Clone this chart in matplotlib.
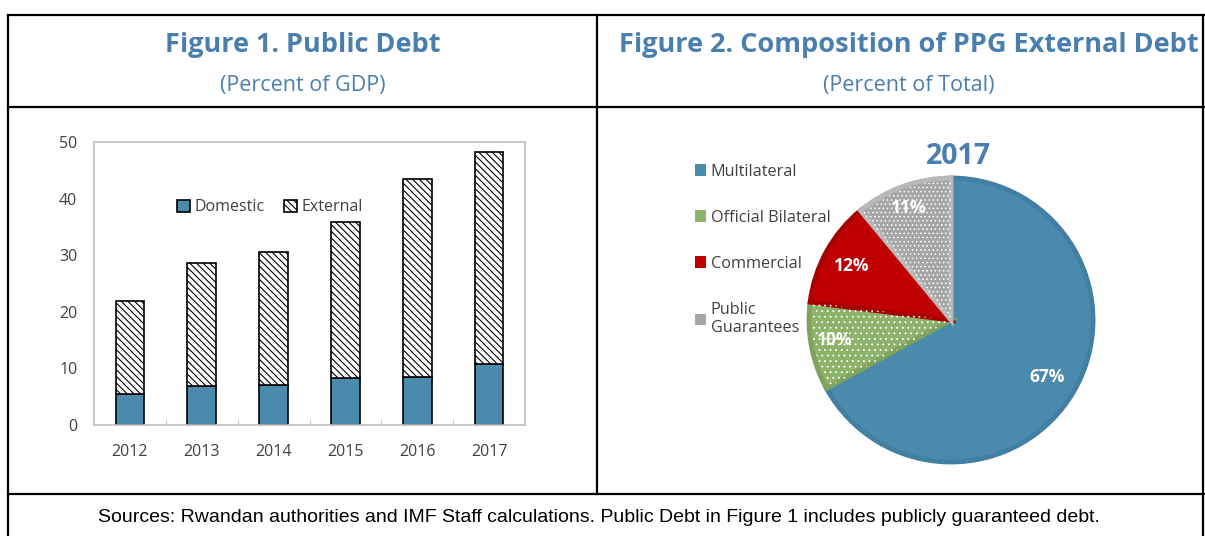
import numpy as np
import matplotlib
matplotlib.use('Agg')
import matplotlib.pyplot as plt
from matplotlib.lines import Line2D
from matplotlib.patches import Patch, Wedge

plt.rcParams['font.family'] = ['Open Sans', 'DejaVu Sans']
plt.rcParams['hatch.linewidth'] = 0.8

# data
years = ['2012', '2013', '2014', '2015', '2016', '2017']
domestic = [5.5, 6.9, 7.1, 8.3, 8.5, 10.7]
external = [16.4, 21.7, 23.4, 27.5, 34.9, 37.5]

pie_labels = ['Multilateral', 'Official Bilateral', 'Commercial', 'Public\nGuarantees']
pie_values = [67, 10, 12, 11]
pie_colors = ['#4A8BAD', '#8DB26A', '#C00000', '#A6A6A6']
pie_edges = ['#427FA2', '#7FA25E', '#A80000', '#B8B8B8']
pie_hatch = ['', '...', '', '....']
# label spots (in pie radius units)
pct_pos = [(0.68, -0.40), (-0.82, -0.14), (-0.70, 0.38), (-0.30, 0.79)]

W, H = 1205, 536
fig = plt.figure(figsize=(W / 100, H / 100), dpi=100)

def fx(x):
    return x / W

def fy(y):
    return 1 - y / H

# table frame
lw = 1.6
for (x0, y0, x1, y1) in [(8, 15, 1205, 15), (8, 107, 1205, 107), (8, 494, 1205, 494),
                         (8, 15, 8, 536), (597, 15, 597, 494), (1203, 15, 1203, 536)]:
    fig.add_artist(Line2D([fx(x0), fx(x1)], [fy(y0), fy(y1)], color='black', lw=lw))

blue = '#4A7EAE'
fig.text(fx(303), fy(45), 'Figure 1. Public Debt', ha='center', va='center',
         fontsize=19.5, fontweight='bold', color=blue)
fig.text(fx(303), fy(86), '(Percent of GDP)', ha='center', va='center',
         fontsize=15.5, color=blue)
fig.text(fx(909), fy(45), 'Figure 2. Composition of PPG External Debt', ha='center', va='center',
         fontsize=19.5, fontweight='bold', color=blue)
fig.text(fx(909), fy(86), '(Percent of Total)', ha='center', va='center',
         fontsize=15.5, color=blue)
fig.text(fx(599), fy(517), 'Sources: Rwandan authorities and IMF Staff calculations. '
         'Public Debt in Figure 1 includes publicly guaranteed debt.',
         ha='center', va='center', fontsize=14,
         family=['Liberation Sans', 'DejaVu Sans'], color='black')

# Figure 1: stacked bars
ax = fig.add_axes([fx(94), fy(425), fx(525) - fx(94), fy(142) - fy(425)])
x = np.arange(len(years))
ax.bar(x, domestic, width=0.4, color='#4A8BAD', edgecolor='black', lw=1.2, label='Domestic')
ax.bar(x, external, width=0.4, bottom=domestic, color='white', edgecolor='black',
       hatch='\\\\\\\\\\', lw=1.2, label='External')
ax.set_xlim(-0.5, 5.5)
ax.set_ylim(0, 50)
ax.set_yticks(range(0, 51, 10))
ax.set_xticks(x)
ax.set_xticklabels(years)
ax.set_xticks(x[:-1] + 0.5, minor=True)
ax.tick_params(axis='x', which='major', length=0, pad=14, labelsize=11.5, labelcolor='#404040')
ax.tick_params(axis='x', which='minor', direction='in', length=4, color='#BFBFBF')
ax.tick_params(axis='y', length=0, pad=12, labelsize=11.5, labelcolor='#404040')
for s in ax.spines.values():
    s.set_color('#BFBFBF')
    s.set_linewidth(1.2)
ax.legend(loc='upper left', bbox_to_anchor=(fx(163), fy(185)), bbox_transform=fig.transFigure,
          ncol=2, frameon=False, fontsize=11.5, handlelength=0.8, handleheight=0.8,
          handletextpad=0.3, columnspacing=1.2, labelcolor='#404040')

# Figure 2: pie
r = 142
pax = fig.add_axes([fx(951 - 1.1 * r), fy(320 + 1.1 * r), 2.2 * r / W, 2.2 * r / H])
wedges, _ = pax.pie(pie_values, colors=pie_colors, startangle=90, counterclock=False,
                    wedgeprops=dict(edgecolor='none'))
plt.rcParams['hatch.linewidth'] = 0.6
for w, ec, h in zip(wedges, pie_edges, pie_hatch):
    w.set_edgecolor(ec)
    w.set_linewidth(3.5)
    w.set_joinstyle('miter')
    if h:
        over = Wedge(w.center, w.r - 0.02, w.theta1, w.theta2,
                     fill=False, hatch=h, edgecolor='white', lw=0)
        pax.add_patch(over)
for v, (px, py) in zip(pie_values, pct_pos):
    pax.text(px, py, f'{v}%', ha='center', va='center', color='white',
             fontsize=12.5, fontweight='bold')
pax.set_xlim(-1.1, 1.1)
pax.set_ylim(-1.1, 1.1)
pax.set_aspect('equal')
pax.axis('off')
fig.text(fx(958), fy(157), '2017', ha='center', va='center', fontsize=20.5,
         fontweight='bold', color=blue)

handles = [Patch(facecolor=c, edgecolor='none', hatch=h) for c, h in zip(pie_colors, pie_hatch)]
fig.legend(handles, pie_labels, loc='upper left', bbox_to_anchor=(fx(680), fy(149)),
           frameon=False, fontsize=11.7, handlelength=0.7, handleheight=0.7,
           handletextpad=0.3, labelspacing=1.85, labelcolor='#404040')

fig.savefig('out.png', dpi=100)
